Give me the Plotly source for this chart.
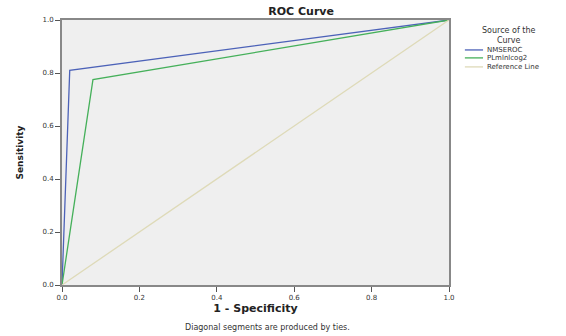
import plotly.graph_objects as go

series_names = ["NMSEROC", "PLmlnlcog2", "Reference Line"]
x_nmse = [0.0, 0.02, 1.0]
y_nmse = [0.0, 0.81, 1.0]
x_pl = [0.0, 0.08, 1.0]
y_pl = [0.0, 0.775, 1.0]
x_ref = [0.0, 1.0]
y_ref = [0.0, 1.0]
tick_vals = [0.0, 0.2, 0.4, 0.6, 0.8, 1.0]
tick_text = ["0.0", "0.2", "0.4", "0.6", "0.8", "1.0"]
colors = ["#4c62b8", "#45b05a", "#dedab8"]

fig = go.Figure()
for xs, ys, nm, c in [(x_nmse, y_nmse, series_names[0], colors[0]),
                      (x_pl, y_pl, series_names[1], colors[1]),
                      (x_ref, y_ref, series_names[2], colors[2])]:
    fig.add_trace(go.Scatter(x=xs, y=ys, mode="lines", name=nm, showlegend=False,
                             line=dict(color=c, width=1.3)))

# manual legend (compact like the reference)
legend_y = [0.887, 0.857, 0.823]
shapes = []
annotations = [
    dict(text="Source of the<br>Curve", xref="paper", yref="paper", x=1.155, y=0.943,
         xanchor="center", yanchor="middle", showarrow=False, align="center",
         font=dict(size=8, color="#333333")),
    dict(text="Diagonal segments are produced by ties.", xref="paper", yref="paper",
         x=0.532, y=-0.162, xanchor="center", yanchor="middle", showarrow=False,
         font=dict(size=8, color="#333333")),
]
for nm, c, yy in zip(series_names, colors, legend_y):
    shapes.append(dict(type="line", xref="paper", yref="paper", x0=1.041, x1=1.088,
                       y0=yy, y1=yy, line=dict(color=c, width=1.3)))
    annotations.append(dict(text=nm, xref="paper", yref="paper", x=1.093, y=yy,
                            xanchor="left", yanchor="middle", showarrow=False,
                            font=dict(size=7, color="#333333")))

fig.update_layout(
    width=566, height=336,
    margin=dict(l=62, r=117, t=20, b=51),
    paper_bgcolor="white", plot_bgcolor="#efefef",
    font=dict(family="DejaVu Sans", size=8, color="#333333"),
    title=dict(text="<b>ROC Curve</b>", x=0.532, xanchor="center", y=0.967, yanchor="middle",
               font=dict(size=11, color="#222222")),
    showlegend=False,
    shapes=shapes,
    annotations=annotations,
    xaxis=dict(range=[0, 1], tickvals=tick_vals, ticktext=tick_text, ticks="outside",
               ticklen=5, tickcolor="#555555", showgrid=False, zeroline=False,
               showline=True, linecolor="#888888", linewidth=2, mirror=True,
               title=dict(text="<b>1 - Specificity</b>", font=dict(size=11, color="#222222"), standoff=2),
               tickfont=dict(size=7)),
    yaxis=dict(range=[0, 1], tickvals=tick_vals, ticktext=tick_text, ticks="outside",
               ticklen=5, tickcolor="#555555", showgrid=False, zeroline=False,
               showline=True, linecolor="#888888", linewidth=2, mirror=True,
               title=dict(text="<b>Sensitivity</b>", font=dict(size=9, color="#222222"), standoff=17),
               tickfont=dict(size=7)),
)

fig.write_html("out.html", config={"displayModeBar": False},
               post_script="document.body.style.margin='0px';")
